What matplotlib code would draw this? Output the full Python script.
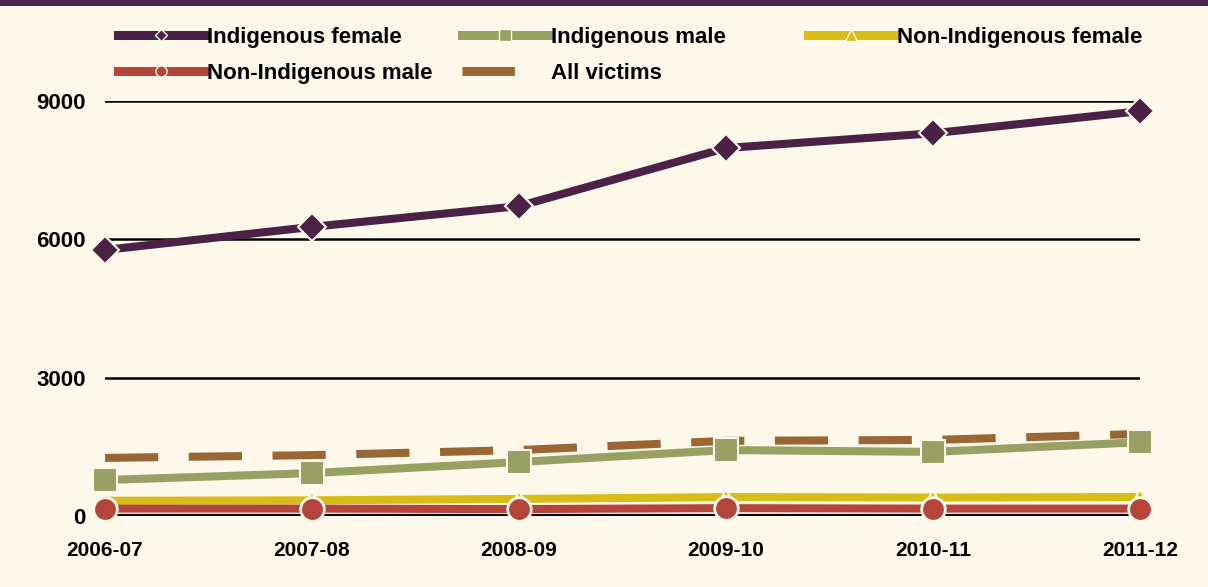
import numpy as np
import matplotlib.pyplot as plt
from matplotlib.lines import Line2D
from matplotlib.patches import Rectangle

plt.rcParams['font.family'] = ['Liberation Sans', 'DejaVu Sans']
plt.rcParams['font.weight'] = 'bold'

# datos
years = ['2006-07', '2007-08', '2008-09', '2009-10', '2010-11', '2011-12']
indig_female = [5770, 6270, 6720, 7980, 8300, 8780]
indig_male = [780, 930, 1170, 1430, 1390, 1600]
nonindig_female = [330, 340, 370, 410, 400, 410]
nonindig_male = [160, 160, 150, 170, 160, 160]
all_victims = [1260, 1320, 1430, 1630, 1650, 1780]
yticks = [0, 3000, 6000, 9000]

bg = '#FEF8EA'
c_if = '#4B2146'
c_im = '#98A064'
c_nf = '#D9BC16'
c_nm = '#B5443A'
c_all = '#9B6534'

fig = plt.figure(figsize=(12.08, 5.87), dpi=100, facecolor=bg)
# barra superior del titulo
fig.patches.append(Rectangle((0, 0.99), 1, 0.02, transform=fig.transFigure,
                             facecolor=c_if, edgecolor='none'))

ax = fig.add_axes([105/1208, 1-516/587, (1140-105)/1208, (516-101)/587])
ax.set_facecolor(bg)
x = np.arange(len(years))

for yv in yticks[1:]:
    ax.axhline(yv, color='black', lw=1.8, zorder=1)
ax.axhline(0, color='black', lw=3, zorder=1)

lw = 5.8
ax.plot(x, all_victims, color=c_all, lw=lw, dashes=(6.6, 3.8), zorder=2,
        clip_on=False, solid_capstyle='butt', label='All victims')
ax.plot(x, indig_male, color=c_im, lw=lw, marker='s', ms=17, mec=bg, mew=1.5,
        zorder=3, clip_on=False, label='Indigenous male')
ax.plot(x, nonindig_female, color=c_nf, lw=lw, marker='^', ms=12, mec=bg, mew=1.5,
        zorder=3, clip_on=False, label='Non-Indigenous female')
ax.plot(x, nonindig_male, color=c_nm, lw=lw, marker='o', ms=17, mec=bg, mew=2,
        zorder=4, clip_on=False, label='Non-Indigenous male')
ax.plot(x, indig_female, color=c_if, lw=lw, marker='D', ms=14, mec=bg, mew=1.5,
        zorder=5, clip_on=False, label='Indigenous female')

ax.set_xlim(0, len(years)-1)
ax.set_ylim(0, 9000)
ax.set_xticks(x)
ax.set_xticklabels(years, fontsize=15, fontweight='bold')
ax.set_yticks(yticks)
ax.set_yticklabels([str(v) for v in yticks], fontsize=16, fontweight='bold')
ax.tick_params(axis='y', length=0, pad=14)
ax.tick_params(axis='x', length=3, width=1.5, pad=15)
for s in ax.spines.values():
    s.set_visible(False)

# leyenda en tres columnas separadas
def h(color, marker=None, ms=6, dashes=None):
    l = Line2D([], [], color=color, lw=6.5, marker=marker, ms=ms, mec=bg, mew=1)
    if dashes:
        l.set_dashes(dashes)
    return l

cols = [
    ([h(c_if, 'D', 6), h(c_nm, 'o', 8)], ['Indigenous female', 'Non-Indigenous male'], 118),
    ([h(c_im, 's', 8), h(c_all, dashes=(5.8, 4))], ['Indigenous male', 'All victims'], 462),
    ([h(c_nf, '^', 8)], ['Non-Indigenous female'], 808),
]
for hs, ls, px in cols:
    fig.legend(hs, ls, loc='upper left', bbox_to_anchor=(px/1208, 1-27/587),
               frameon=False, handlelength=3.9, handletextpad=0.1,
               labelspacing=0.68, borderpad=0, borderaxespad=0,
               prop={'weight': 'bold', 'size': 16})

fig.savefig('out.png', dpi=100, facecolor=bg)
